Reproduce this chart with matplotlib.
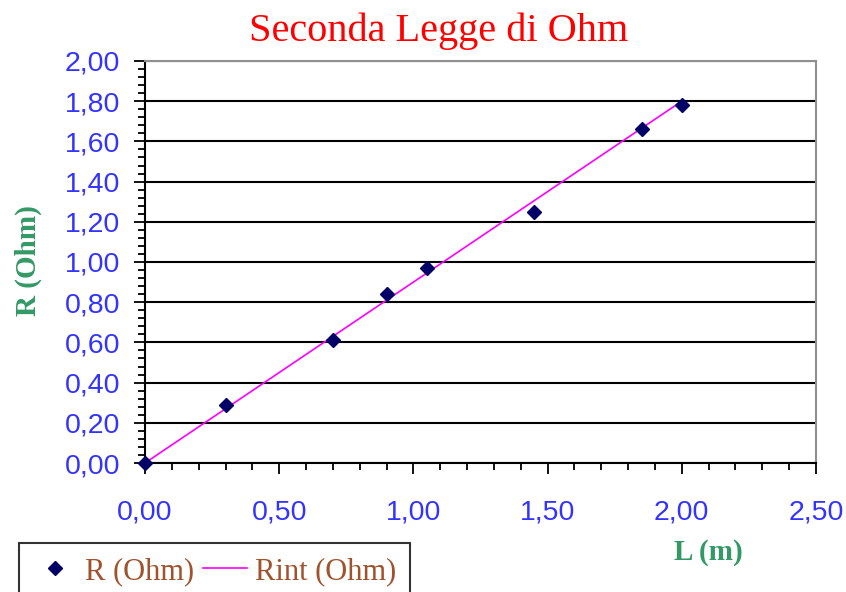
import matplotlib.pyplot as plt
from matplotlib.ticker import MultipleLocator, FuncFormatter

# Data
L = [0.00, 0.30, 0.70, 0.90, 1.05, 1.45, 1.85, 2.00]
R = [0.00, 0.29, 0.61, 0.84, 0.97, 1.25, 1.66, 1.78]
Rint = [0.00, 0.27, 0.63, 0.81, 0.945, 1.305, 1.665, 1.80]

plt.rcParams['font.family'] = ['Liberation Serif', 'DejaVu Serif']

fig = plt.figure(figsize=(8.46, 5.92), dpi=100)
ax = fig.add_axes([0.1714, 0.2179, 0.7931, 0.6791])

ax.plot(L, Rint, color="#ff00ff", linewidth=1.2, label="Rint (Ohm)", zorder=3)
ax.plot(L, R, linestyle="none", marker="D", markersize=7, color="#000066",
        label="R (Ohm)", zorder=4, clip_on=False)

ax.set_xlim(0, 2.5)
ax.set_ylim(0, 2.0)

# Grid and spines
ax.xaxis.set_major_locator(MultipleLocator(0.5))
ax.xaxis.set_minor_locator(MultipleLocator(0.1))
ax.yaxis.set_major_locator(MultipleLocator(0.2))
ax.yaxis.set_minor_locator(MultipleLocator(0.04))
ax.grid(axis="y", which="major", color="black", linewidth=1.5)
ax.set_axisbelow(True)
for side in ["top", "right"]:
    ax.spines[side].set_color("#909090")
    ax.spines[side].set_linewidth(1.5)
for side in ["left", "bottom"]:
    ax.spines[side].set_color("black")
    ax.spines[side].set_linewidth(1.5)

comma = FuncFormatter(lambda v, p: f"{v:.2f}".replace(".", ","))
ax.xaxis.set_major_formatter(comma)
ax.yaxis.set_major_formatter(comma)

ax.tick_params(axis="both", which="major", direction="out", length=8, width=1.3,
               labelsize=20.5, labelcolor="#3333ff", color="black")
ax.tick_params(axis="both", which="minor", direction="out", length=5, width=1.3,
               color="black")
ax.tick_params(axis="x", which="major", pad=18)
ax.tick_params(axis="y", which="major", pad=10)
for lab in ax.get_xticklabels() + ax.get_yticklabels():
    lab.set_family(["Liberation Sans", "DejaVu Sans"])

fig.text(0.519, 1 - 31 / 592, "Seconda Legge di Ohm", color="red", fontsize=29,
         ha="center", va="center")
fig.text(28 / 846, 1 - 261 / 592, "R (Ohm)", color="#339966", fontsize=21,
         fontweight="bold", rotation=90, ha="center", va="center")
fig.text(708 / 846, 1 - 552 / 592, "L (m)", color="#339966", fontsize=21,
         fontweight="bold", ha="center", va="center")

handles, labels = ax.get_legend_handles_labels()
leg = fig.legend(handles[::-1], labels[::-1], loc="upper left",
                 bbox_to_anchor=(19 / 846, 1 - 543 / 592), ncol=2, fontsize=22,
                 frameon=True, fancybox=False, edgecolor="black",
                 handlelength=1.45, columnspacing=0.3, handletextpad=0.25,
                 borderpad=0.45, borderaxespad=0)
leg.get_frame().set_linewidth(1.5)
for t in leg.get_texts():
    t.set_color("#a0522d")

fig.savefig("out.png", dpi=100)
